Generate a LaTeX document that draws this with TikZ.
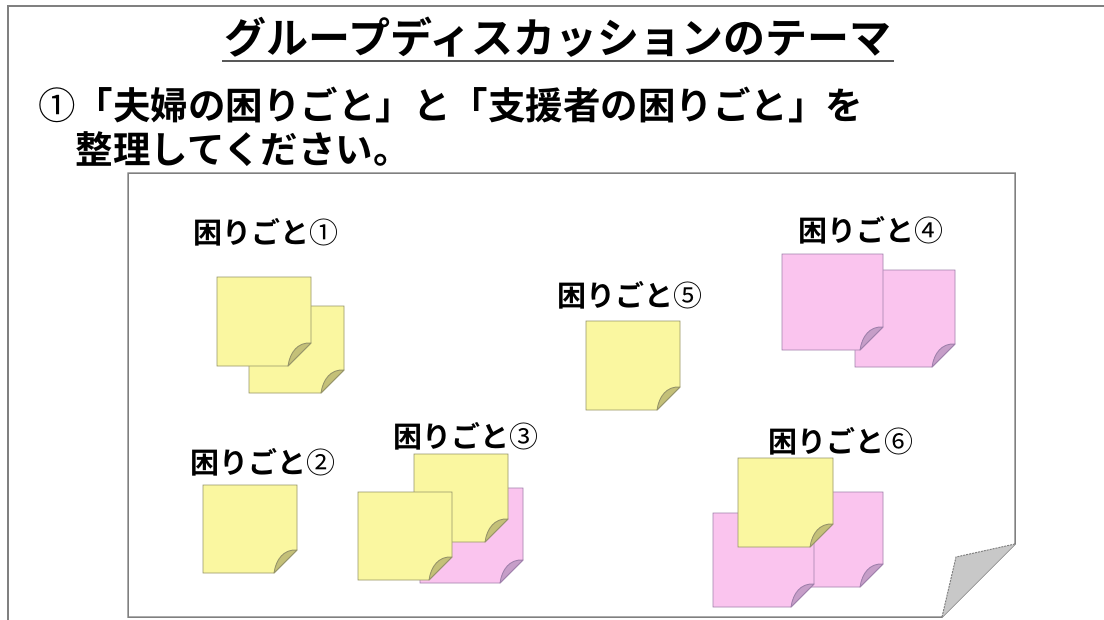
\documentclass[tikz,border=0pt]{standalone}
\usepackage{fontspec}
\setmainfont{Noto Sans CJK JP}[BoldFont={Noto Sans CJK JP Bold}]

\definecolor{paperline}{RGB}{128,128,128}
\definecolor{foldgray}{RGB}{200,200,200}
\definecolor{yellowfill}{RGB}{250,247,160}
\definecolor{yellowline}{RGB}{150,148,105}
\definecolor{yellowcurlfill}{RGB}{196,192,120}
\definecolor{pinkfill}{RGB}{250,196,238}
\definecolor{pinkline}{RGB}{160,128,172}
\definecolor{pinkcurlfill}{RGB}{198,158,200}

% circled numbers in the light weight
\newcommand{\maru}[1]{{\mdseries #1}}

% sticky note: #1 colour set, #2,#3 top left, #4 width, #5 height
\newcommand{\fusen}[5]{%
  \draw[#1note] (#2,#3) -- ++(#4,0) -- ++(0,#5-23) -- ++(-23,23) -- ++(-#4+23,0) -- cycle;
  \draw[#1curl] (#2+#4,#3+#5-23) .. controls (#2+#4-13,#3+#5-24) and (#2+#4-21,#3+#5-14) .. (#2+#4-23,#3+#5) -- cycle;
}

\begin{document}
\begin{tikzpicture}[x=1pt,y=-1pt,
  yellownote/.style={fill=yellowfill,draw=yellowline,line width=0.9pt},
  yellowcurl/.style={fill=yellowcurlfill,draw=yellowline,line width=0.9pt,line join=round},
  pinknote/.style={fill=pinkfill,draw=pinkline,line width=0.9pt},
  pinkcurl/.style={fill=pinkcurlfill,draw=pinkline,line width=0.9pt,line join=round},
  heading/.style={inner sep=0pt,anchor=base,font=\bfseries\fontsize{42}{50}\selectfont},
  body/.style={inner sep=0pt,anchor=base west,font=\bfseries\fontsize{37.5}{45}\selectfont},
  tag/.style={inner sep=0pt,anchor=base,font=\bfseries\fontsize{29}{35}\selectfont}]
  \useasboundingbox (0,0) rectangle (1104,619);

  % slide frame
  \draw[paperline,line width=1.5pt] (8,625) -- (8,6) -- (1110,6);

  % title and task
  \node[heading] (title) at (558,53) {グループディスカッションのテーマ};
  \draw[black!65,line width=2.5pt] (222,61) -- (894,61);
  \node[body] (task1) at (38,119) {\maru{①}「夫婦の困りごと」と「支援者の困りごと」を};
  \node[body] (task2) at (75.5,163) {整理してください。};

  % sheet with turned corner
  \draw[paperline,line width=1.5pt,fill=white] (128,173) -- (1015,173) -- (1015,544) -- (942,617) -- (128,617) -- cycle;
  \fill[foldgray] (1015,544) -- (956,557) -- (942,617) -- cycle;
  \draw[paperline,line width=1pt,dash pattern=on 2pt off 1pt] (1015,544) -- (956,557) -- (942,617);

  % group 1
  \fusen{yellow}{249}{306}{95}{87}
  \fusen{yellow}{217}{277}{94}{89}
  \node[tag] (tag1) at (266,243) {困りごと\maru{①}};

  % group 2
  \fusen{yellow}{203}{485}{94}{88}
  \node[tag] (tag2) at (263,473) {困りごと\maru{②}};

  % group 3
  \fusen{pink}{420}{488}{103}{95}
  \fusen{yellow}{414}{454}{94}{88}
  \fusen{yellow}{358}{492}{94}{88}
  \node[tag] (tag3) at (466,447) {困りごと\maru{③}};

  % group 4
  \fusen{pink}{855}{270}{100}{97}
  \fusen{pink}{782}{254}{101}{96}
  \node[tag] (tag4) at (871,241) {困りごと\maru{④}};

  % group 5
  \fusen{yellow}{586}{321}{94}{89}
  \node[tag] (tag5) at (630,306) {困りごと\maru{⑤}};

  % group 6
  \fusen{pink}{782}{492}{101}{95}
  \fusen{pink}{713}{513}{101}{94}
  \fusen{yellow}{738}{458}{95}{89}
  \node[tag] (tag6) at (841,452) {困りごと\maru{⑥}};
\end{tikzpicture}
\end{document}
